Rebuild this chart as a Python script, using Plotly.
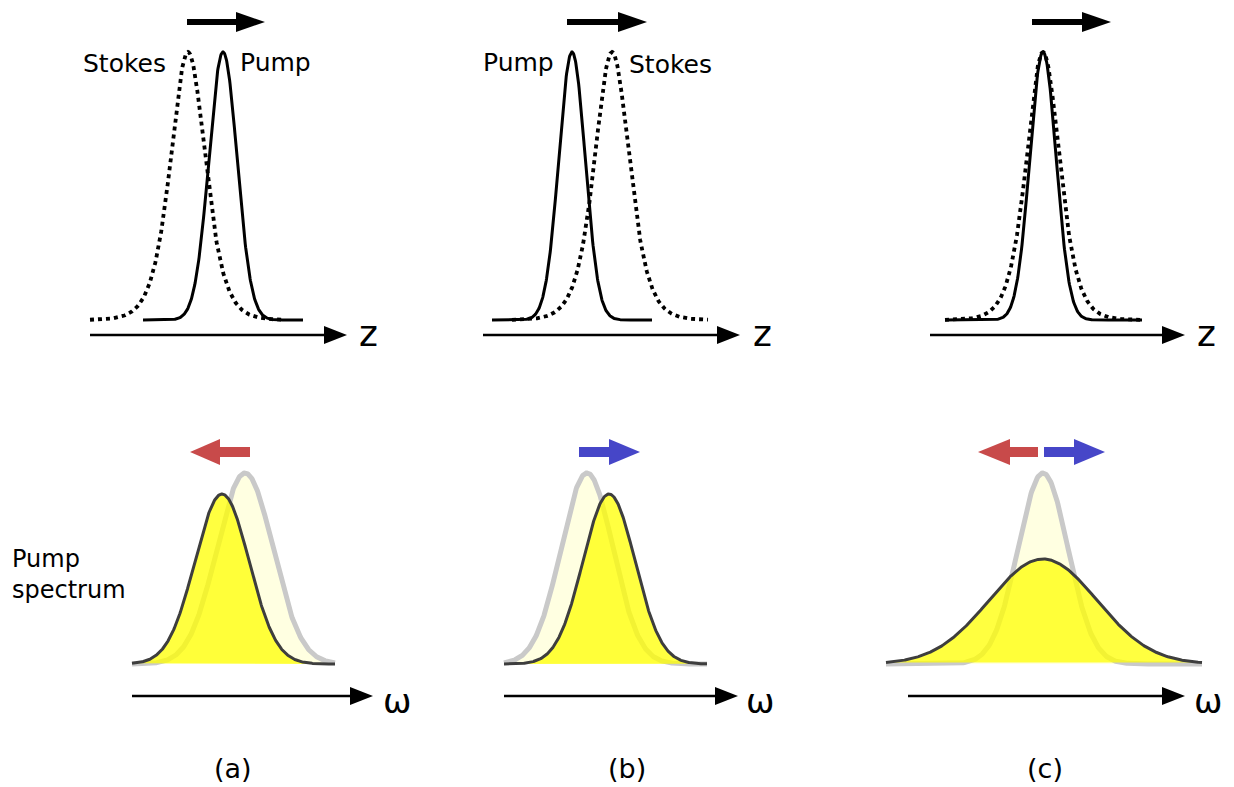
import numpy as np
import plotly.graph_objects as go

W, H = 1234, 787
FONT = "DejaVu Sans"

# ---- top row: pump and Stokes pulses along z (pixel space of the figure) ----
pump_center = [223, 572, 1043]
pump_fwhm = [33, 31, 31]
pump_span = [(143, 303), (492, 652), (945, 1142)]
stokes_center = [188, 612, 1043]
stokes_fwhm = [41, 41, 39]
stokes_span = [(90, 283), (512, 708), (945, 1142)]
pulse_peak_y = 52
pulse_base_y = 320

pulse_labels = [("Stokes", 124, 63), ("Pump", 275, 62),
                ("Pump", 518, 62), ("Stokes", 670, 64)]

travel_arrow = [(187, 265), (567, 647), (1032, 1111)]
travel_arrow_y = 22

z_axis = [(90, 347), (483, 740), (930, 1185)]
z_axis_y = 335
z_label_x = [368, 762, 1206]

# ---- bottom row: pump spectra along omega ----
orig_center = [245, 587, 1043]
orig_sigma = [28, 26, 25]
orig_peak_y = 473
new_center = [222, 609, 1043]
new_sigma = [27, 26, 54]
new_peak_y = [494, 494, 559]
spec_base_y = 664
spec_span = [(132, 335), (504, 707), (886, 1202)]

# spectral shift arrows: (tail, head base, tip, colour)
shift_arrows = [(250, 220, 190, "#c84a4a"), (579, 609, 640, "#4646c8"),
                (1038, 1010, 978, "#c84a4a"), (1044, 1074, 1105, "#4646c8")]
shift_arrow_y = 452

w_axis = [(132, 373), (504, 738), (908, 1185)]
w_axis_y = 696
w_label_x = [397, 760, 1208]

panel_labels = ["(a)", "(b)", "(c)"]
panel_label_x = [233, 627, 1045]
panel_label_y = 768


def gauss(x, c, sigma):
    return np.exp(-0.5 * ((x - c) / sigma) ** 2)


def sech2(x, c, fwhm):
    t = fwhm / 1.7627
    return 1.0 / np.cosh((x - c) / t) ** 2


fig = go.Figure()
shapes = []
annotations = []


def arrow(x0, x1, y, width, head_len, head_half, color):
    d = 1 if x1 > x0 else -1
    xb = x1 - d * head_len
    shapes.append(dict(type="line", x0=x0, x1=xb + d * 1, y0=y, y1=y,
                       line=dict(color=color, width=width)))
    shapes.append(dict(type="path",
                       path=f"M {xb},{y - head_half} L {x1},{y} L {xb},{y + head_half} Z",
                       fillcolor=color, line=dict(color=color, width=0)))


amp = pulse_base_y - pulse_peak_y
for i in range(3):
    xs = np.linspace(*stokes_span[i], 400)
    ys = pulse_base_y - amp * sech2(xs, stokes_center[i], stokes_fwhm[i])
    fig.add_trace(go.Scatter(x=xs, y=ys, mode="lines",
                             line=dict(color="black", width=3.8, dash="4px,4px")))
    xp = np.linspace(*pump_span[i], 400)
    yp = pulse_base_y - amp * gauss(xp, pump_center[i], pump_fwhm[i] / 2.3548)
    fig.add_trace(go.Scatter(x=xp, y=yp, mode="lines",
                             line=dict(color="black", width=3)))
    arrow(travel_arrow[i][0], travel_arrow[i][1], travel_arrow_y, 6, 29, 10, "black")
    arrow(z_axis[i][0], z_axis[i][1], z_axis_y, 2.5, 23, 9, "black")
    annotations.append(dict(x=z_label_x[i], y=z_axis_y - 2, text="z", showarrow=False,
                            font=dict(family=FONT, size=36, color="black"),
                            xanchor="center", yanchor="middle"))

for txt, x, y in pulse_labels:
    annotations.append(dict(x=x, y=y, text=txt, showarrow=False,
                            font=dict(family=FONT, size=25, color="black"),
                            xanchor="center", yanchor="middle"))

for i in range(3):
    xs = np.linspace(*spec_span[i], 400)
    yo = spec_base_y - (spec_base_y - orig_peak_y) * gauss(xs, orig_center[i], orig_sigma[i])
    fig.add_trace(go.Scatter(x=xs, y=yo, mode="lines", fill="toself",
                             fillcolor="rgba(255,255,200,0.55)",
                             line=dict(color="#c9c9c9", width=5)))
    yn = spec_base_y - (spec_base_y - new_peak_y[i]) * gauss(xs, new_center[i], new_sigma[i])
    fig.add_trace(go.Scatter(x=xs, y=yn, mode="lines", fill="toself",
                             fillcolor="rgba(255,255,0,0.75)",
                             line=dict(color="rgba(0,0,0,0)", width=0)))
    fig.add_trace(go.Scatter(x=xs, y=yn, mode="lines",
                             line=dict(color="#3e3e3e", width=3)))
    arrow(w_axis[i][0], w_axis[i][1], w_axis_y, 2.5, 23, 9, "black")
    annotations.append(dict(x=w_label_x[i], y=w_axis_y + 5, text="ω", showarrow=False,
                            font=dict(family=FONT, size=34, color="black"),
                            xanchor="center", yanchor="middle"))
    annotations.append(dict(x=panel_label_x[i], y=panel_label_y, text=panel_labels[i],
                            showarrow=False, font=dict(family=FONT, size=27, color="black"),
                            xanchor="center", yanchor="middle"))

for tail, hb, tip, col in shift_arrows:
    arrow(tail, tip, shift_arrow_y, 10, abs(tip - hb), 13, col)

annotations.append(dict(x=10, y=574, text="Pump<br>spectrum", showarrow=False, align="left",
                        font=dict(family=FONT, size=24, color="black"),
                        xanchor="left", yanchor="middle"))

fig.update_traces(showlegend=False, hoverinfo="skip")
fig.update_layout(
    width=W, height=H, margin=dict(l=0, r=0, t=0, b=0),
    paper_bgcolor="white", plot_bgcolor="white",
    xaxis=dict(range=[0, W], visible=False, fixedrange=True),
    yaxis=dict(range=[H, 0], visible=False, fixedrange=True),
    shapes=shapes, annotations=annotations,
)
fig.write_html("out.html")
